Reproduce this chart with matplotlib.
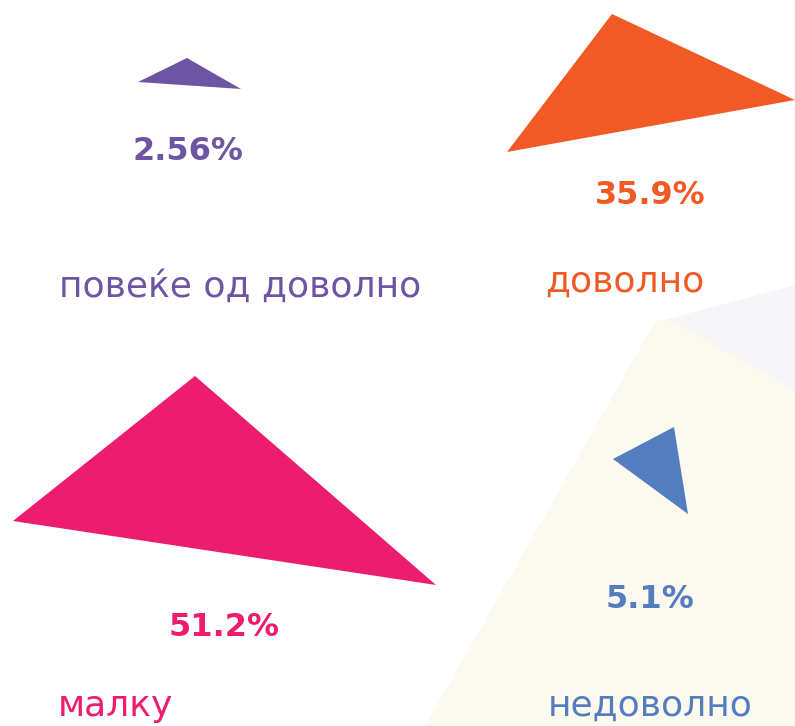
import numpy as np
import matplotlib.pyplot as plt
from matplotlib.patches import Polygon

# --- data ---
labels = ['повеќе од доволно', 'доволно', 'малку', 'недоволно']
values = [2.56, 35.9, 51.2, 5.1]
value_text = ['2.56%', '35.9%', '51.2%', '5.1%']
colors = ['#6E55A3', '#F15A24', '#EC1C6E', '#547DBF']

# decorative triangle shapes (pixel layout, y down)
tri_shapes = [
    [(138, 82), (187, 58), (241, 89)],
    [(507, 152), (612, 14), (795, 100)],
    [(13, 521), (195, 376), (436, 585)],
    [(613, 459), (674, 427), (688, 514)],
]
value_pos = [(188, 152), (650, 196), (224, 628), (650, 600)]
label_pos = [(240, 287), (625, 282), (115, 706), (650, 706)]

plt.rcParams['font.family'] = ['DejaVu Sans']

fig = plt.figure(figsize=(7.95, 7.26), dpi=100)
ax = fig.add_axes([0, 0, 1, 1])
ax.set_xlim(0, 795)
ax.set_ylim(726, 0)
ax.axis('off')

# background shapes
ax.add_patch(Polygon([(655, 322), (670, 318), (795, 390), (795, 726), (425, 726)],
                     closed=True, facecolor='#FCF9EF', edgecolor='none', zorder=0))
ax.add_patch(Polygon([(668, 319), (795, 285), (795, 390)],
                     closed=True, facecolor='#F6F6F8', edgecolor='none', zorder=0))

for shape, c in zip(tri_shapes, colors):
    ax.add_patch(Polygon(shape, closed=True, facecolor=c, edgecolor='none', zorder=2))

for txt, (x, y), c in zip(value_text, value_pos, colors):
    ax.text(x, y, txt, color=c, fontsize=23, fontweight='bold', ha='center', va='center', zorder=3)

for lab, (x, y), c in zip(labels, label_pos, colors):
    ax.text(x, y, lab, color=c, fontsize=26, ha='center', va='center', zorder=3)

fig.savefig('out.png', dpi=100)
